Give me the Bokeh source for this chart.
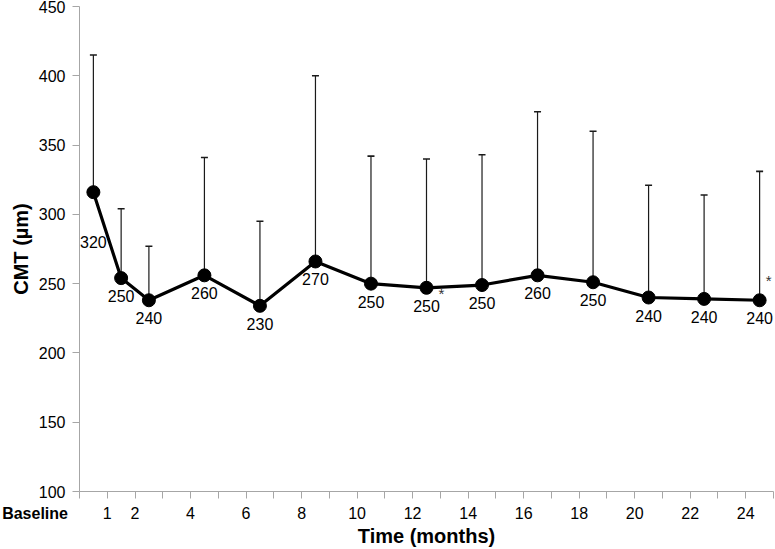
from bokeh.plotting import figure
from bokeh.models import FixedTicker, Range1d, LinearAxis, ColumnDataSource
from bokeh.core.properties import value
from bokeh.embed import file_html
from bokeh.resources import INLINE

# ---- data ----
months = [0, 1, 2, 4, 6, 8, 10, 12, 14, 16, 18, 20, 22, 24]
mean_cmt = [316, 254, 238, 256, 234, 266, 250, 247, 249, 256, 251, 240, 239, 238]
upper_cmt = [415, 304, 277, 341, 295, 400, 342, 340, 343, 374, 360, 321, 314, 331]
point_labels = ["320", "250", "240", "260", "230", "270", "250", "250", "250",
                "260", "250", "240", "240", "240"]
tick_months = [1, 2, 4, 6, 8, 10, 12, 14, 16, 18, 20, 22, 24]
tick_labels = ["1", "2", "4", "6", "8", "10", "12", "14", "16", "18", "20", "22", "24"]
baseline_label = "Baseline"
star_months = [12, 24]
y_ticks = [100, 150, 200, 250, 300, 350, 400, 450]

FONT = "Liberation Sans"

# points are drawn in the middle of each month slot
xs = [m + 0.5 for m in months]

p = figure(width=775, height=549, output_backend="svg", toolbar_location=None,
           x_range=Range1d(0, 25), y_range=Range1d(100, 450),
           min_border_left=79, min_border_right=2, min_border_top=6,
           min_border_bottom=0)
p.outline_line_color = None
p.xgrid.visible = False
p.ygrid.visible = False
p.background_fill_color = "white"

axis_col = "#a6a6a6"

def style(ax):
    ax.axis_line_color = axis_col
    ax.major_tick_line_color = axis_col
    ax.minor_tick_line_color = None
    ax.major_tick_in = 0
    ax.major_tick_out = 7
    ax.major_label_text_font = FONT
    ax.major_label_text_font_size = "16px"
    ax.major_label_text_color = "black"
    ax.axis_label_text_font = FONT
    ax.axis_label_text_font_size = "20px"
    ax.axis_label_text_font_style = "bold"
    ax.axis_label_text_color = "black"

# ---- y axis ----
yax = p.yaxis[0]
style(yax)
yax.ticker = FixedTicker(ticks=y_ticks)
yax.major_label_standoff = 7
yax.axis_label = "CMT (µm)"
yax.axis_label_standoff = 4

# ---- inner x axis: line, slot ticks and the bold "Baseline" category ----
xin = p.xaxis[0]
style(xin)
xin.ticker = FixedTicker(ticks=list(range(26)))
pad = "\u00a0" * 20  # shifts the centred word to the left of the origin tick
inner_over = {k: "" for k in range(26)}
inner_over[0] = baseline_label + pad
xin.major_label_overrides = inner_over
xin.major_label_text_font_style = "bold"
xin.major_label_standoff = 6

# ---- outer x axis: month numbers (pulled up into the same row) and title ----
xout = LinearAxis()
style(xout)
xout.axis_line_color = None
xout.major_tick_line_color = None
xout.major_tick_out = 0
xout.ticker = FixedTicker(ticks=tick_months)
xout.major_label_overrides = {m: t for m, t in zip(tick_months, tick_labels)}
xout.major_label_standoff = -18
xout.axis_label = "Time (months)"
xout.axis_label_standoff = 3
p.add_layout(xout, "below")

# error bars (upper only)
p.segment(x0=xs, y0=mean_cmt, x1=xs, y1=upper_cmt, line_color="#1a1a1a", line_width=1.2)
p.scatter(x=xs, y=upper_cmt, marker="dash", size=7, line_color="#1a1a1a", line_width=1.6)

# mean line and markers
p.line(x=xs, y=mean_cmt, line_color="black", line_width=3.2)
p.scatter(x=xs, y=mean_cmt, size=13, fill_color="black", line_color="black")

# data labels
label_offsets = [50] + [18] * (len(months) - 1)
src = ColumnDataSource(dict(x=xs, y=mean_cmt, t=point_labels, dy=label_offsets))
p.text(x="x", y="y", text="t", y_offset="dy", source=src, text_align="center",
       text_baseline="middle", text_font=value(FONT), text_font_size="16px",
       text_color="black")

# asterisks
star_dx = {12: 15, 24: 9}
star_dy = {12: 6, 24: -20}
for m in star_months:
    i = months.index(m)
    p.text(x=[xs[i]], y=[mean_cmt[i]], text=["*"], x_offset=star_dx[m], y_offset=star_dy[m],
           text_align="center", text_baseline="middle", text_font=value(FONT),
           text_font_size="15px", text_color="#333333")

open("out.html", "w").write(file_html(p, INLINE))
